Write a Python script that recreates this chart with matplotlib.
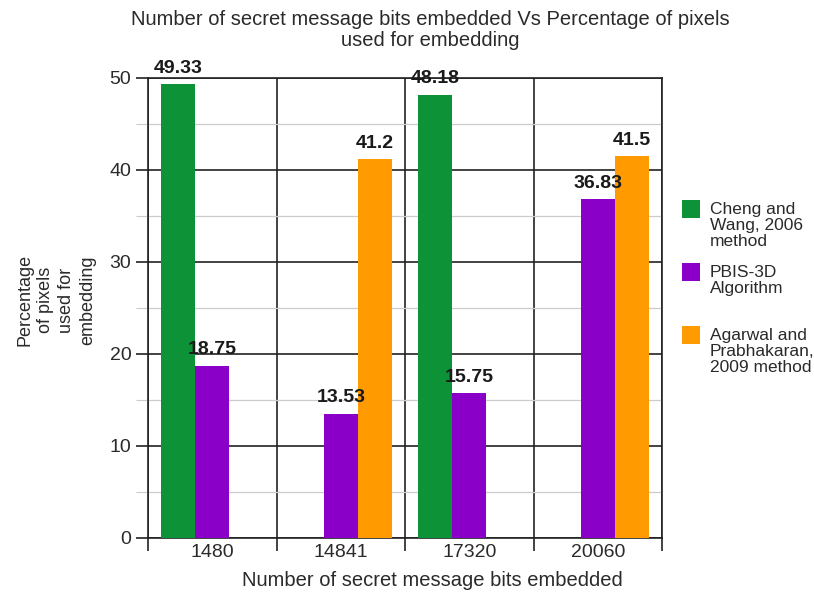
import matplotlib
matplotlib.use("Agg")
import matplotlib.pyplot as plt
from matplotlib.patches import Rectangle
import numpy as np

plt.rcParams['font.family'] = ['Liberation Sans', 'DejaVu Sans']

# bits embedded per test case
categories = ['1480', '14841', '17320', '20060']
series_names = ['Cheng and\nWang, 2006\nmethod',
                'PBIS-3D\nAlgorithm',
                'Agarwal and\nPrabhakaran,\n2009 method']
# percentage of pixels used (None = not reported)
cheng_wang = [49.33, None, 48.18, None]
pbis_3d = [18.75, 13.53, 15.75, 36.83]
agarwal = [None, 41.2, None, 41.5]
series_values = [cheng_wang, pbis_3d, agarwal]
colors = ['#0e9238', '#8b00c9', '#ff9a00']

fig = plt.figure(figsize=(8.14, 5.95), dpi=100)
ax = fig.add_axes([148 / 814, 57 / 595, 514 / 814, 460 / 595])

x = np.arange(len(categories))
width = 0.265
for i, (vals, col) in enumerate(zip(series_values, colors)):
    offset = (i - 1) * width
    for xi, v in zip(x, vals):
        if v is None:
            continue
        ax.bar(xi + offset, v, width, color=col, zorder=3)
        ax.text(xi + offset, v + 0.8, f'{v:g}', ha='center', va='bottom',
                fontsize=14, fontweight='bold', color='#1a1a1a', zorder=5)

ax.set_xlim(-0.5, len(categories) - 0.5)
ax.set_ylim(0, 50)

# group boundaries get the ticks and grid, labels sit at group centres
ax.set_xticks(np.arange(len(categories) + 1) - 0.5)
ax.set_xticklabels([])
ax.set_xticks(x, minor=True)
ax.set_xticklabels(categories, minor=True, fontsize=14, color='#2a2a2a')
ax.tick_params(axis='x', which='major', length=9, width=1.2, direction='out',
               color='#222222')
ax.tick_params(axis='x', which='minor', length=0, pad=4)

ax.set_yticks(np.arange(0, 51, 10))
ax.set_yticks(np.arange(5, 50, 10), minor=True)
ax.tick_params(axis='y', which='major', length=9, width=1.2, color='#222222',
               labelsize=14, labelcolor='#2a2a2a', pad=3)
ax.tick_params(axis='y', which='minor', length=9, width=0.8, color='#cccccc')

ax.grid(axis='y', which='major', color='#222222', linewidth=1.2, zorder=1)
ax.grid(axis='y', which='minor', color='#cccccc', linewidth=0.9, zorder=1)
ax.grid(axis='x', which='major', color='#222222', linewidth=1.2, zorder=1)
ax.set_axisbelow(True)
for side in ax.spines.values():
    side.set_color('#222222')
    side.set_linewidth(1.2)

fig.text(432 / 814, 1 - 581 / 595, 'Number of secret message bits embedded',
         ha='center', va='center', fontsize=14.5, color='#2a2a2a')
fig.text(56 / 814, 1 - 300 / 595, 'Percentage\nof pixels\nused for\nembedding',
         rotation=90, ha='center', va='center', fontsize=13,
         linespacing=1.3, color='#2a2a2a')
fig.text(430 / 814, 1 - 30 / 595,
         'Number of secret message bits embedded Vs Percentage of pixels\nused for embedding',
         ha='center', va='center', fontsize=14.5, linespacing=1.15,
         color='#2a2a2a')

# legend: square swatch with the label hanging from its top edge
for k, (name, col) in enumerate(zip(series_names, colors)):
    top = 200 + k * 63
    fig.add_artist(Rectangle((682 / 814, 1 - (top + 18) / 595), 18 / 814,
                             18 / 595, transform=fig.transFigure,
                             facecolor=col, edgecolor='none'))
    fig.text(710 / 814, 1 - (top + 2) / 595, name, ha='left', va='top',
             fontsize=12.5, linespacing=1.1, color='#2a2a2a')

fig.savefig('out.png', dpi=100)
